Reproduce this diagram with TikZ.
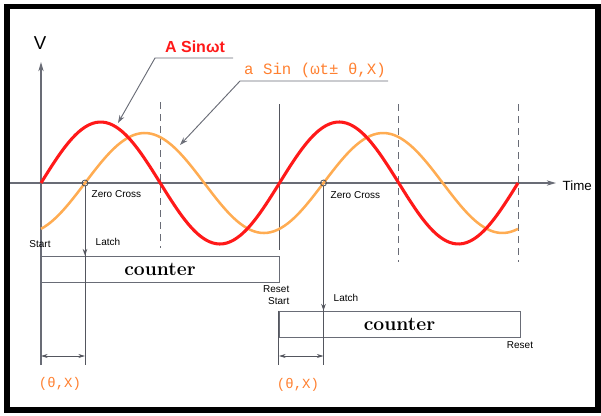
\documentclass[tikz,border=0pt]{standalone}
\usepackage{fontspec}
\usetikzlibrary{arrows.meta,positioning}
\newfontfamily\labelsans{Liberation Sans}
\newfontfamily\phasemono{Liberation Mono}
\definecolor{wave_red}{RGB}{255,25,25}
\definecolor{wave_orange}{RGB}{255,172,82}
\definecolor{text_orange}{RGB}{255,128,48}
\definecolor{line_grey}{RGB}{105,108,118}

\begin{document}
\begin{tikzpicture}[x=0.75pt, y=-0.75pt, font=\labelsans\fontsize{7.5}{8.5}\selectfont,
    redwave/.style={wave_red, line width=2.3pt},
    orangewave/.style={wave_orange, line width=1.9pt},
    axisline/.style={line_grey, line width=0.9pt},
    thinline/.style={line_grey!80!black, line width=0.6pt},
    dashmark/.style={line_grey, line width=0.6pt, dash pattern=on 5.5pt off 3.5pt},
    leaderline/.style={line_grey, line width=0.7pt},
    counterbox/.style={draw=line_grey, line width=0.6pt, inner sep=0pt,
      font=\bfseries\fontsize{14.5}{16}\selectfont},
    zeromark/.style={circle, draw=line_grey!70!black, line width=0.6pt, inner sep=0pt, minimum size=4.5pt},
    phaselabel/.style={text_orange, font=\phasemono\fontsize{10.5}{12}\selectfont}]
  \useasboundingbox (0,0) rectangle (601,415);
  % frame
  \draw[black, line width=4.2pt] (7,6.5) rectangle (598,410);

  % axes
  \coordinate (tstart) at (10,183);
  \coordinate (tend) at (556,183);
  \coordinate (vbot) at (41,365);
  \coordinate (vtop) at (41,62);
  \draw[axisline,-{Stealth[length=7pt,width=4pt]}] (tstart) -- (tend);
  \draw[axisline,-{Stealth[length=7pt,width=4pt]}] (vbot) -- (vtop);
  \node[font=\labelsans\fontsize{14}{16}\selectfont] (vlabel) at (40,43) {V};
  \node[anchor=west, font=\labelsans\fontsize{10}{12}\selectfont] (timelabel) at (558,186) {Time};

  % guide lines
  \foreach \xx/\ya/\yb in {160/102/248, 398/104/262, 518/104/262}{
    \draw[dashmark] (\xx,\ya) -- (\xx,\yb);
  }
  \draw[thinline] (279,104) -- (279,250);

  % waves (period 238.5 px, 360/238.5 = 1.50943)
  \draw[orangewave] plot[domain=41:518, samples=140, smooth]
    (\x,{183-50*sin(1.50943*(\x-85))});
  \draw[redwave] plot[domain=41:518, samples=140, smooth]
    (\x,{183-61*sin(1.50943*(\x-41))});

  % zero crosses
  \node[zeromark] (zc1) at (85,183) {};
  \node[zeromark] (zc2) at (323.5,183) {};
  \node[anchor=west] (zctext1) at (87,194) {Zero Cross};
  \node[anchor=west] (zctext2) at (326,195) {Zero Cross};

  % counters
  \node[counterbox, minimum width=178.5pt, minimum height=19.5pt] (cnt1) at (160,269) {counter};
  \node[counterbox, minimum width=180.75pt, minimum height=19.5pt] (cnt2) at (399.5,324) {counter};

  \coordinate (latchend1) at (85,365);
  \coordinate (latchend2) at (323.5,365);
  \draw[thinline] (zc1) -- (latchend1);
  \draw[thinline] (zc2) -- (latchend2);
  \draw[thinline,-{Stealth[length=5pt,width=3.5pt,open]}] (zc1) -- (zc1 |- cnt1.north);
  \draw[thinline,-{Stealth[length=5pt,width=3.5pt,open]}] (zc2) -- (zc2 |- cnt2.north);
  \draw[thinline] (cnt2.north west) -- (cnt2.north west |- latchend2);

  \node (start1) at (40,244) {Start};
  \node[anchor=west] (latch1) at (91,242) {Latch};
  \node[align=right, anchor=east] (resetstart) at (294,295) {Reset\\Start};
  \node[anchor=west] (latch2) at (329,298) {Latch};
  \node (reset2) at (520,345) {Reset};

  % phase dimensions
  \coordinate (dim1a) at (41,356);
  \coordinate (dim1b) at (85,356);
  \coordinate (dim2a) at (279,356);
  \coordinate (dim2b) at (323.5,356);
  \draw[thinline,{Stealth[length=5pt,width=3pt]}-{Stealth[length=5pt,width=3pt]}] (dim1a) -- (dim1b);
  \draw[thinline,{Stealth[length=5pt,width=3pt]}-{Stealth[length=5pt,width=3pt]}] (dim2a) -- (dim2b);
  \node[phaselabel] (phase1) at (60,384) {(θ,X)};
  \node[phaselabel] (phase2) at (298,385) {(θ,X)};

  % wave names
  \node[wave_red, font=\labelsans\bfseries\fontsize{12}{14}\selectfont] (redname) at (195,47) {A Sinωt};
  \coordinate (redline) at (233,58);
  \coordinate (redknee) at (155,58);
  \coordinate (redtip) at (118,123);
  \draw[leaderline,-{Stealth[length=6pt,width=4pt,open]}] (redline) -- (redknee) -- (redtip);

  \node[text_orange, font=\phasemono\fontsize{11.8}{14}\selectfont] (orangename) at (315,70) {a Sin (ωt± θ,X)};
  \coordinate (orangeline) at (388,81);
  \coordinate (orangeknee) at (240,81);
  \coordinate (orangetip) at (180,145);
  \draw[leaderline,-{Stealth[length=6pt,width=4pt,open]}] (orangeline) -- (orangeknee) -- (orangetip);
\end{tikzpicture}
\end{document}
